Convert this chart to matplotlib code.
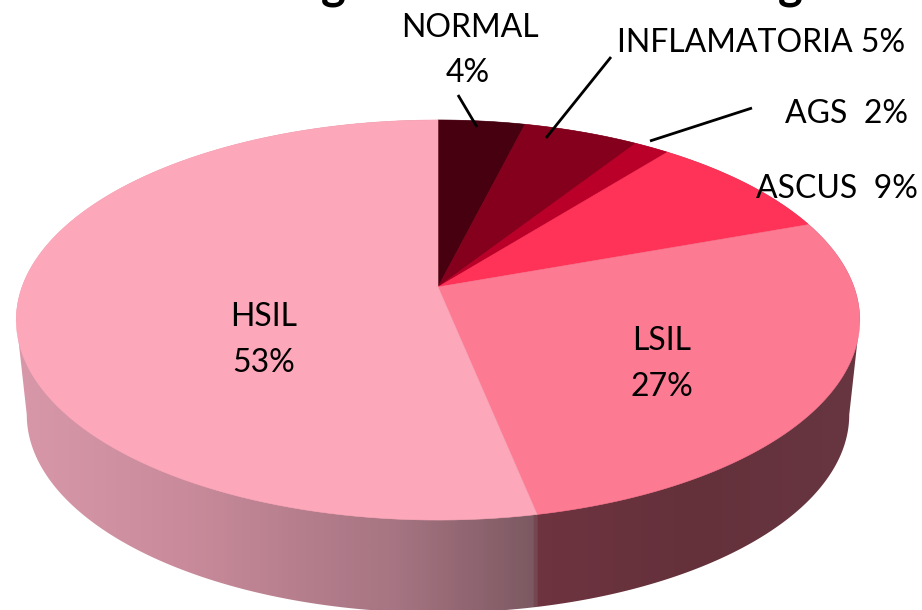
import numpy as np
import matplotlib
matplotlib.use('Agg')
import matplotlib.pyplot as plt
from matplotlib.colors import LinearSegmentedColormap
from matplotlib.patches import Polygon

plt.rcParams['font.family'] = ['Lato', 'DejaVu Sans']

categories = ['NORMAL', 'INFLAMATORIA', 'AGS', 'ASCUS', 'LSIL', 'HSIL']
values = [3.9, 5.2, 1.6, 8.8, 27.3, 53.2]
colors = ['#47000F', '#85001C', '#BA0028', '#FF3358', '#FD7A93', '#FDA8BA']

wall_stops = [(0.0, '#D999AB'), (0.2, '#C98B9B'), (0.43, '#A67482'), (0.578, '#7C5962'),
              (0.583, '#6E3440'), (0.75, '#64313B'), (1.0, '#693843')]
wall_cmap = LinearSegmentedColormap.from_list('wall', wall_stops)

# perspective of the disc on the canvas, in pixels
cx, cy = 438, 287
rx, ry = 416, 194.6
persp = 0.165
# bottom rim of the cylinder
base_drop = 95
base_sx = 0.975
base_sy = 0.99


def project(theta, sx=1.0, sy=1.0, drop=0.0):
    u, v = np.sin(theta), np.cos(theta)
    den = 1 + persp * v
    return cx + sx * rx * u / den, cy + drop - sy * ry * v / den


fig = plt.figure(figsize=(9.22, 6.10), dpi=100)
ax = fig.add_axes([0, 0, 1, 1])
ax.set_xlim(0, 922)
ax.set_ylim(610, 0)
ax.axis('off')

# side wall, one gradient clipped to the outline of the cylinder
edge = np.arccos(-persp)
t_back = np.linspace(edge, 2 * np.pi - edge, 300)
t_top = np.linspace(2 * np.pi - edge, 2 * np.pi + edge, 300)
xb, yb = project(t_back, base_sx, base_sy, base_drop)
xt, yt = project(t_top)
outline = Polygon(np.column_stack([np.r_[xb, xt], np.r_[yb, yt]]), closed=True,
                  facecolor='none', edgecolor='none')
ax.add_patch(outline)
img = ax.imshow(np.linspace(0, 1, 922)[None, :], cmap=wall_cmap, aspect='auto',
                extent=[0, 922, 610, 0], zorder=1)
img.set_clip_path(outline)
ax.set_xlim(0, 922)
ax.set_ylim(610, 0)

# top of the disc
ends = np.cumsum(values) / np.sum(values) * 2 * np.pi
starts = np.r_[0, ends[:-1]]
for a, b, c in zip(starts, ends, colors):
    x, y = project(np.linspace(a, b, 120))
    ax.fill(np.r_[cx, x], np.r_[cy, y], facecolor=c, edgecolor=c, lw=0.4, zorder=2)

# leader lines
line_kw = dict(color='black', lw=2.0, zorder=3, solid_capstyle='butt')
ax.plot([458, 477], [95, 127], **line_kw)
ax.plot([611, 546], [57, 138], **line_kw)
ax.plot([752, 650], [108, 141], **line_kw)

txt = dict(fontsize=23, color='black', zorder=4, va='center')
ax.text(470, 28, 'NORMAL', ha='center', **txt)
ax.text(468, 73, '4%', ha='center', **txt)
ax.text(905, 43, 'INFLAMATORIA 5%', ha='right', **txt)
ax.text(908, 114, 'AGS  2%', ha='right', **txt)
ax.text(918, 189, 'ASCUS  9%', ha='right', **txt)
ax.text(264, 317, 'HSIL', ha='center', **txt)
ax.text(264, 363, '53%', ha='center', **txt)
ax.text(662, 341, 'LSIL', ha='center', **txt)
ax.text(662, 387, '27%', ha='center', **txt)

# the title is cut off by the top edge, only two descenders show
ax.text(333, -15, 'g', ha='center', va='center', fontsize=34, fontweight='bold', color='black')
ax.text(790, -15, 'g', ha='center', va='center', fontsize=34, fontweight='bold', color='black')

fig.savefig('out.png', dpi=100)
